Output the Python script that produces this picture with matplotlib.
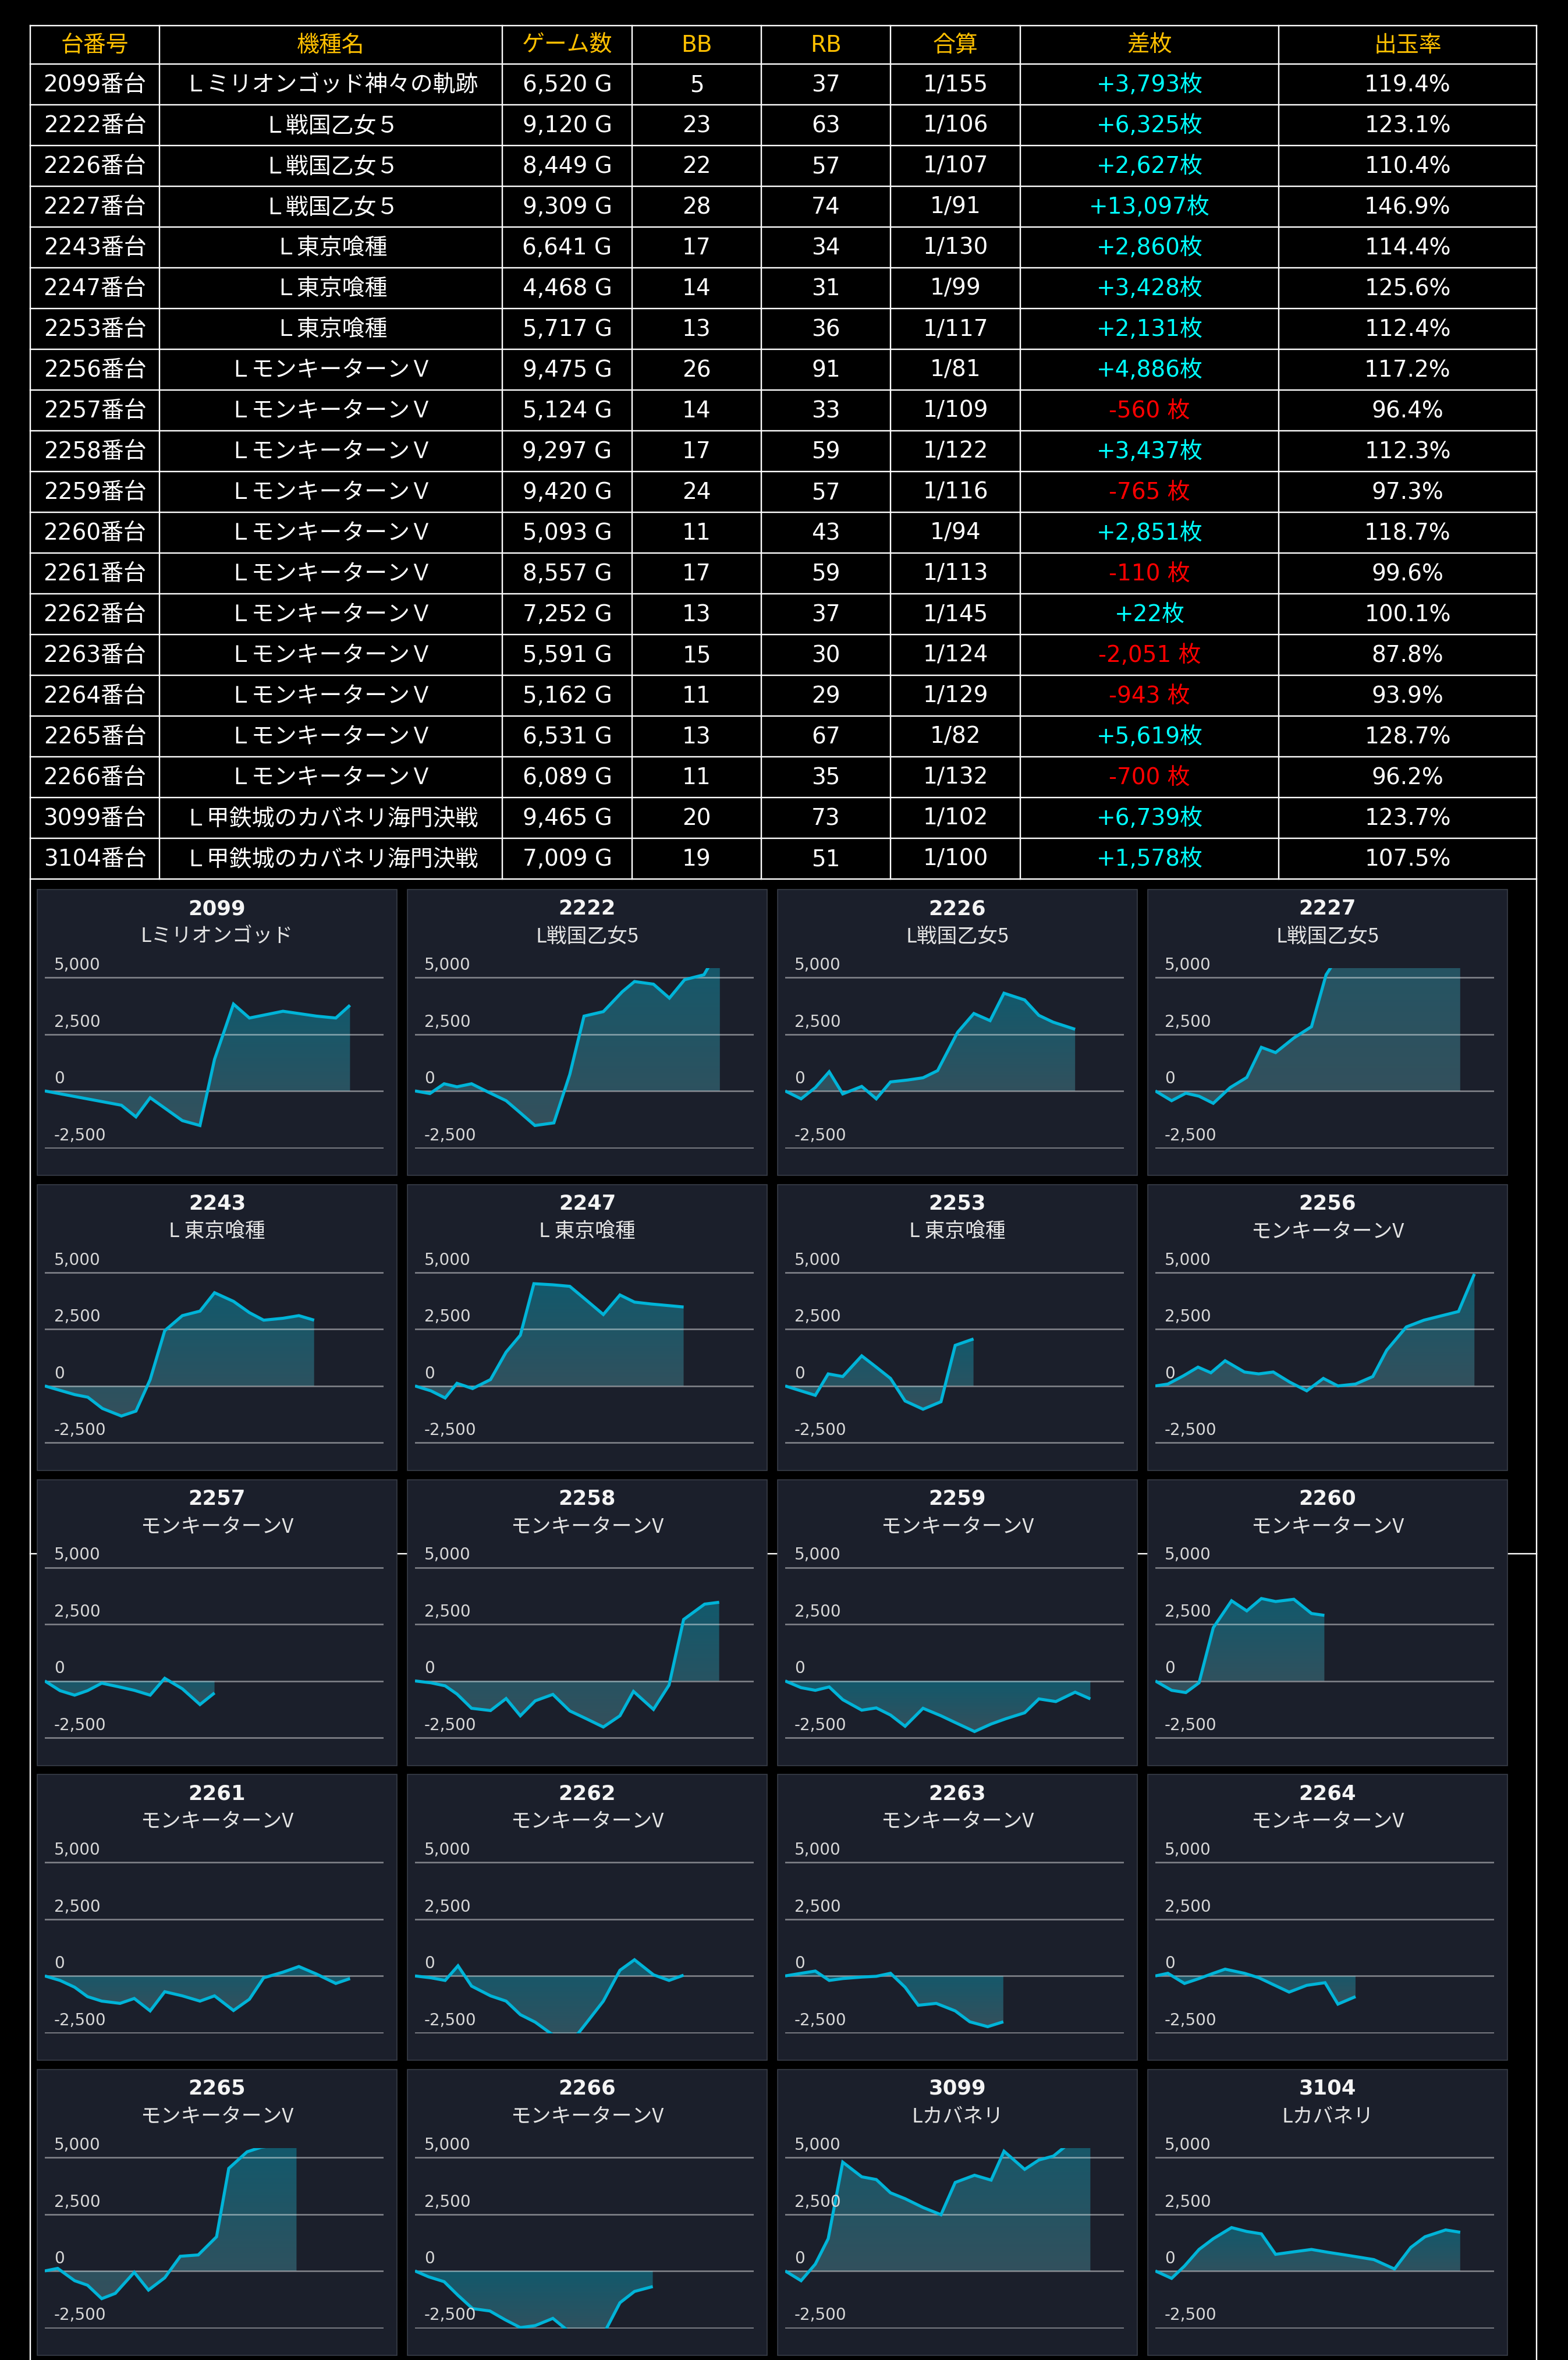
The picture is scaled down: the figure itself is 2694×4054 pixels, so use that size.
import numpy as np
import matplotlib
matplotlib.use("Agg")
import matplotlib.pyplot as plt
from matplotlib.patches import Rectangle, Polygon
from matplotlib import transforms

# ---------------- data ----------------
HEADERS = ["台番号", "機種名", "ゲーム数", "BB", "RB", "合算", "差枚", "出玉率"]
MACHINE_IDS = ["2099", "2222", "2226", "2227", "2243", "2247", "2253", "2256", "2257", "2258",
               "2259", "2260", "2261", "2262", "2263", "2264", "2265", "2266", "3099", "3104"]
TABLE_NAMES = ["Ｌミリオンゴッド神々の軌跡", "Ｌ戦国乙女５", "Ｌ戦国乙女５", "Ｌ戦国乙女５",
               "Ｌ東京喰種", "Ｌ東京喰種", "Ｌ東京喰種",
               "ＬモンキーターンＶ", "ＬモンキーターンＶ", "ＬモンキーターンＶ", "ＬモンキーターンＶ",
               "ＬモンキーターンＶ", "ＬモンキーターンＶ", "ＬモンキーターンＶ", "ＬモンキーターンＶ",
               "ＬモンキーターンＶ", "ＬモンキーターンＶ", "ＬモンキーターンＶ",
               "Ｌ甲鉄城のカバネリ海門決戦", "Ｌ甲鉄城のカバネリ海門決戦"]
CHART_NAMES = ["Lミリオンゴッド", "L戦国乙女5", "L戦国乙女5", "L戦国乙女5",
               "L 東京喰種", "L 東京喰種", "L 東京喰種", "モンキーターンV",
               "モンキーターンV", "モンキーターンV", "モンキーターンV", "モンキーターンV",
               "モンキーターンV", "モンキーターンV", "モンキーターンV", "モンキーターンV",
               "モンキーターンV", "モンキーターンV", "Lカバネリ", "Lカバネリ"]
GAMES = [6520, 9120, 8449, 9309, 6641, 4468, 5717, 9475, 5124, 9297,
         9420, 5093, 8557, 7252, 5591, 5162, 6531, 6089, 9465, 7009]
BB = [5, 23, 22, 28, 17, 14, 13, 26, 14, 17, 24, 11, 17, 13, 15, 11, 13, 11, 20, 19]
RB = [37, 63, 57, 74, 34, 31, 36, 91, 33, 59, 57, 43, 59, 37, 30, 29, 67, 35, 73, 51]
GOUSAN = [155, 106, 107, 91, 130, 99, 117, 81, 109, 122, 116, 94, 113, 145, 124, 129, 82, 132, 102, 100]
SAMAI = [3793, 6325, 2627, 13097, 2860, 3428, 2131, 4886, -560, 3437,
         -765, 2851, -110, 22, -2051, -943, 5619, -700, 6739, 1578]
RATE = [119.4, 123.1, 110.4, 146.9, 114.4, 125.6, 112.4, 117.2, 96.4, 112.3,
        97.3, 118.7, 99.6, 100.1, 87.8, 93.9, 128.7, 96.2, 123.7, 107.5]

# chart series: x = position in the session (percent of axis), y = 差枚 progression
X_2099 = [0, 22.6, 26.9, 31.1, 40.6, 45.8, 50.1, 55.7, 60.4, 70.3, 80.2, 85.9, 90.1]
Y_2099 = [0, -629, -1142, -298, -1308, -1523, 1391, 3825, 3212, 3510, 3295, 3212, 3775]
X_2222 = [0, 4.4, 8.6, 12.4, 16.7, 21.6, 26.9, 30.8, 35.4, 41.0, 45.7, 49.9, 55.6, 61.2, 64.8, 70.4, 75.1, 79.6, 85.3, 90.0]
Y_2222 = [0, -116, 315, 182, 315, -50, -430, -927, -1523, -1407, 728, 3295, 3493, 4371, 4818, 4702, 4089, 4901, 5116, 6325]
X_2226 = [0, 4.7, 8.9, 13.0, 17.0, 22.6, 26.9, 31.1, 36.1, 40.7, 45.0, 50.9, 55.7, 60.5, 64.6, 70.7, 74.9, 79.1, 85.6]
Y_2226 = [0, -348, 149, 844, -132, 199, -348, 397, 480, 579, 894, 2583, 3411, 3096, 4305, 4007, 3328, 3030, 2715]
X_2227 = [0, 4.8, 9.0, 12.9, 17.1, 22.1, 27.0, 31.3, 35.5, 40.9, 46.1, 50.4, 55.6, 60.5, 64.8, 70.4, 75.0, 79.5, 85.3, 90.0]
Y_2227 = [0, -430, -99, -232, -546, 149, 596, 1921, 1689, 2334, 2831, 5116, 6300, 7400, 8300, 9200, 10100, 11000, 12000, 13097]
X_2243 = [0, 8.8, 12.7, 17.0, 22.6, 26.9, 31.1, 35.4, 40.6, 45.8, 50.1, 55.7, 60.4, 64.6, 70.3, 75.0, 79.5]
Y_2243 = [0, -381, -497, -993, -1325, -1109, 281, 2434, 3096, 3295, 4106, 3725, 3228, 2897, 2980, 3096, 2897]
X_2247 = [0, 4.7, 8.9, 12.4, 17.0, 22.3, 26.9, 31.1, 35.1, 40.7, 45.7, 50.6, 55.6, 60.5, 64.8, 69.7, 79.3]
Y_2247 = [0, -215, -530, 116, -116, 281, 1490, 2235, 4503, 4454, 4387, 3775, 3146, 4007, 3692, 3609, 3477]
X_2253 = [0, 8.9, 12.7, 17.0, 22.6, 26.9, 31.1, 35.4, 40.7, 46.0, 50.2, 55.6]
Y_2253 = [0, -414, 530, 414, 1325, 828, 331, -662, -1026, -695, 1788, 2070]
X_2256 = [0, 3.7, 8.3, 12.6, 16.4, 20.6, 26.3, 30.5, 34.8, 39.7, 44.7, 49.6, 53.9, 59.1, 64.2, 68.3, 74.1, 79.3, 89.5, 94.2]
Y_2256 = [0, 83, 447, 828, 580, 1109, 613, 530, 613, 166, -215, 331, 0, 83, 414, 1573, 2599, 2897, 3278, 4934]
X_2257 = [0, 4.5, 8.8, 12.6, 16.8, 21.5, 26.4, 31.1, 35.4, 40.6, 45.8, 50.1]
Y_2257 = [0, -429, -627, -429, -99, -248, -413, -627, 116, -347, -1040, -528]
X_2258 = [0, 4.7, 8.9, 12.4, 16.7, 22.3, 26.9, 31.1, 35.5, 40.7, 45.7, 50.6, 55.6, 60.5, 64.5, 70.4, 75.0, 79.3, 85.5, 89.8]
Y_2258 = [0, -83, -215, -578, -1205, -1304, -776, -1535, -875, -594, -1320, -1667, -2030, -1535, -462, -1254, -182, 2706, 3383, 3465]
X_2259 = [0, 4.7, 8.9, 13.0, 17.0, 22.6, 26.9, 31.1, 35.4, 40.7, 46.0, 50.2, 55.9, 60.8, 65.1, 70.7, 74.9, 79.9, 85.6, 90.1]
Y_2259 = [0, -297, -413, -264, -825, -1287, -1188, -1502, -1997, -1205, -1535, -1832, -2228, -1898, -1667, -1403, -792, -908, -495, -792]
X_2260 = [0, 4.8, 9.0, 12.9, 17.1, 22.5, 27.0, 31.3, 35.5, 40.9, 46.1, 49.9]
Y_2260 = [0, -413, -512, -83, 2343, 3531, 3086, 3630, 3498, 3597, 2970, 2888]
X_2261 = [0, 4.5, 8.8, 12.6, 16.8, 22.2, 26.4, 31.1, 35.4, 40.6, 45.8, 50.1, 55.7, 60.4, 64.6, 70.3, 75.0, 80.2, 85.9, 90.1]
Y_2261 = [0, -198, -497, -911, -1109, -1209, -993, -1540, -695, -877, -1109, -877, -1523, -1026, -83, 166, 414, 83, -331, -116]
X_2262 = [0, 4.7, 8.9, 12.7, 16.7, 22.3, 26.9, 31.1, 35.5, 40.7, 45.7, 50.6, 55.6, 60.5, 64.8, 70.4, 75.0, 79.3]
Y_2262 = [0, -83, -198, 447, -447, -877, -1109, -1705, -2036, -2600, -3000, -2070, -1109, 248, 712, 50, -198, 33]
X_2263 = [0, 4.7, 8.9, 13.0, 17.0, 22.6, 26.9, 31.1, 35.4, 39.3, 44.6, 50.2, 54.5, 59.8, 64.4]
Y_2263 = [0, 116, 215, -198, -116, -50, -17, 116, -497, -1291, -1209, -1540, -2020, -2235, -2020]
X_2264 = [0, 3.7, 8.6, 12.9, 17.1, 20.6, 26.3, 30.6, 34.8, 39.5, 44.7, 50.1, 53.9, 59.1]
Y_2264 = [0, 116, -331, -116, 116, 298, 116, -83, -381, -712, -414, -298, -1242, -911]
X_2265 = [0, 3.8, 8.8, 12.6, 16.8, 20.8, 26.4, 30.6, 35.4, 40.0, 45.3, 50.7, 54.3, 59.7, 63.9, 69.0, 74.3]
Y_2265 = [0, 112, -430, -628, -1221, -989, -60, -843, -301, 645, 705, 1505, 4515, 5246, 5450, 5550, 5619]
X_2266 = [0, 4.0, 8.6, 12.7, 17.0, 22.1, 26.6, 31.1, 35.5, 40.7, 45.7, 50.6, 55.6, 60.5, 64.8, 70.2]
Y_2266 = [0, -258, -473, -1075, -1660, -1763, -2150, -2495, -2408, -2090, -2700, -3000, -2800, -1402, -903, -688]
X_3099 = [0, 4.7, 8.9, 12.7, 17.0, 22.6, 26.9, 31.1, 35.4, 40.7, 46.0, 50.2, 55.9, 60.8, 64.6, 70.7, 74.9, 79.2, 85.6, 90.1]
Y_3099 = [0, -430, 301, 1419, 4791, 4146, 4025, 3440, 3182, 2795, 2477, 3897, 4215, 4000, 5273, 4473, 4886, 5060, 5837, 6739]
X_3104 = [0, 4.8, 8.6, 12.9, 17.1, 22.5, 27.0, 31.3, 35.5, 40.9, 46.1, 51.1, 56.0, 60.3, 64.5, 70.6, 75.4, 79.6, 85.7, 90.0]
Y_3104 = [0, -327, 215, 946, 1419, 1909, 1737, 1634, 731, 843, 946, 817, 705, 602, 499, 86, 1032, 1505, 1806, 1703]

Y_TICKS = [-2500, 0, 2500, 5000]

SERIES_X = [X_2099, X_2222, X_2226, X_2227, X_2243, X_2247, X_2253, X_2256, X_2257, X_2258,
            X_2259, X_2260, X_2261, X_2262, X_2263, X_2264, X_2265, X_2266, X_3099, X_3104]
SERIES_Y = [Y_2099, Y_2222, Y_2226, Y_2227, Y_2243, Y_2247, Y_2253, Y_2256, Y_2257, Y_2258,
            Y_2259, Y_2260, Y_2261, Y_2262, Y_2263, Y_2264, Y_2265, Y_2266, Y_3099, Y_3104]

# ---------------- style / layout ----------------
W, H = 2694, 4054
DPI = 100
PT = 0.72  # points per pixel at 100 dpi

HEADER_COLOR = "#ffc000"
PLUS_COLOR = "#00ffff"
MINUS_COLOR = "#ff0000"
PANEL_BG = "#1b1f2b"
PANEL_EDGE = "#3a3f4a"
LINE_COLOR = "#00b4d8"
GRAD_TOP = np.array([18, 89, 108]) / 255.0
GRAD_BOT = np.array([52, 80, 92]) / 255.0

TABLE_FONT = ["DejaVu Sans", "Noto Sans CJK JP"]
CJK_FONT = ["Noto Sans CJK JP", "DejaVu Sans"]

COL_X = [52, 274, 863, 1086, 1308, 1530, 1753, 2197, 2640]
TABLE_TOP, HEADER_BOTTOM, ROW_H = 44, 110, 70

fig = plt.figure(figsize=(W / DPI, H / DPI), dpi=DPI, facecolor="black")
bg = fig.add_axes([0, 0, 1, 1])
bg.set_xlim(0, W)
bg.set_ylim(H, 0)
bg.set_axis_off()
bg.add_patch(Rectangle((0, 0), W, H, facecolor="black", edgecolor="none", zorder=0))

n_rows = len(MACHINE_IDS)
table_bottom = HEADER_BOTTOM + ROW_H * n_rows
LW = 2.4 * PT

# table grid lines
hlines = [TABLE_TOP, HEADER_BOTTOM] + [HEADER_BOTTOM + ROW_H * (i + 1) for i in range(n_rows)]
for yy in hlines:
    bg.plot([COL_X[0], COL_X[-1]], [yy, yy], color="white", lw=LW, zorder=1, solid_capstyle="projecting")
for i, xx in enumerate(COL_X):
    y_end = H if i in (0, len(COL_X) - 1) else table_bottom
    bg.plot([xx, xx], [TABLE_TOP, y_end], color="white", lw=LW, zorder=1, solid_capstyle="projecting")
# the row border that continues behind the chart panels
bg.plot([COL_X[0], COL_X[-1]], [2669, 2669], color="white", lw=LW, zorder=1)

col_cx = [(COL_X[i] + COL_X[i + 1]) / 2 for i in range(len(COL_X) - 1)]
FS_TABLE = 28
for j, htxt in enumerate(HEADERS):
    bg.text(col_cx[j], (TABLE_TOP + HEADER_BOTTOM) / 2 + 1, htxt, color=HEADER_COLOR, fontsize=FS_TABLE,
            family=TABLE_FONT, ha="center", va="center", zorder=3)

for i in range(n_rows):
    cy = HEADER_BOTTOM + ROW_H * i + ROW_H / 2 + 1
    d = SAMAI[i]
    if d >= 0:
        dtxt, dcol = f"+{d:,}枚", PLUS_COLOR
    else:
        dtxt, dcol = f"{d:,} 枚", MINUS_COLOR
    cells = [(f"{MACHINE_IDS[i]}番台", "white"), (TABLE_NAMES[i], "white"), (f"{GAMES[i]:,} G", "white"),
             (str(BB[i]), "white"), (str(RB[i]), "white"), (f"1/{GOUSAN[i]}", "white"),
             (dtxt, dcol), (f"{RATE[i]:.1f}%", "white")]
    for j, (txt, col) in enumerate(cells):
        bg.text(col_cx[j], cy, txt, color=col, fontsize=FS_TABLE, family=TABLE_FONT,
                ha="center", va="center", zorder=3)

# ---------------- chart panels ----------------
PANEL_LEFT0, PANEL_PITCH_X = 64, 636
PANEL_TOP0, PANEL_PITCH_Y = 1528, 506.75
PW, PH = 618, 491
YMIN, YMAX = -2540, 5400
PX_PER_UNIT = 0.039
XMAX = 100

grad = np.linspace(0, 1, 256)[:, None, None]
grad_img = GRAD_TOP[None, None, :] * (1 - grad) + GRAD_BOT[None, None, :] * grad

for k in range(len(MACHINE_IDS)):
    r, c = divmod(k, 4)
    px = PANEL_LEFT0 + c * PANEL_PITCH_X
    py = PANEL_TOP0 + r * PANEL_PITCH_Y
    bg.add_patch(Rectangle((px, py), PW, PH, facecolor=PANEL_BG, edgecolor=PANEL_EDGE,
                           lw=1.6 * PT, zorder=2))
    bg.text(px + PW / 2, py + 33, MACHINE_IDS[k], color="#f4f4f4", fontsize=25.5,
            family="DejaVu Sans", fontweight="bold", ha="center", va="center", zorder=3)
    bg.text(px + PW / 2, py + 81, CHART_NAMES[k], color="#e4e4e4", fontsize=25,
            family=CJK_FONT, ha="center", va="center", zorder=3)

    g5000 = py + 151
    top = g5000 - (YMAX - 5000) * PX_PER_UNIT
    bottom = g5000 + (5000 - YMIN) * PX_PER_UNIT
    left, right = px + 13, px + 595
    ax = fig.add_axes([left / W, 1 - bottom / H, (right - left) / W, (bottom - top) / H])
    ax.set_facecolor("none")
    ax.set_axis_off()

    xs = np.array(SERIES_X[k], dtype=float)
    ys = np.array(SERIES_Y[k], dtype=float)
    ymax_d = max(ys.max(), 0.0)
    ymin_d = min(ys.min(), 0.0)
    im = ax.imshow(grad_img, extent=[xs[0], xs[-1], ymin_d, ymax_d], origin="upper",
                   aspect="auto", interpolation="bilinear", zorder=1)
    verts = np.vstack([np.column_stack([xs, ys]), [[xs[-1], 0.0], [xs[0], 0.0]]])
    poly = Polygon(verts, closed=True, facecolor="none", edgecolor="none", transform=ax.transData)
    ax.add_patch(poly)
    im.set_clip_path(poly)

    for t in Y_TICKS:
        ax.axhline(t, color="white", alpha=0.45, lw=2.6 * PT, zorder=2)
    ax.plot(xs, ys, color=LINE_COLOR, lw=5.2 * PT, zorder=3, solid_joinstyle="miter",
            solid_capstyle="butt")

    trans = transforms.offset_copy(
        transforms.blended_transform_factory(ax.transAxes, ax.transData),
        fig=fig, x=16, y=21, units="dots")
    for t in Y_TICKS:
        ax.text(0, t, f"{t:,}", transform=trans, color="#d8d8d8", fontsize=20,
                family="DejaVu Sans", ha="left", va="center", zorder=4)

    ax.set_xlim(0, XMAX)
    ax.set_ylim(YMIN, YMAX)

fig.savefig("out.png", dpi=DPI, facecolor="black")
